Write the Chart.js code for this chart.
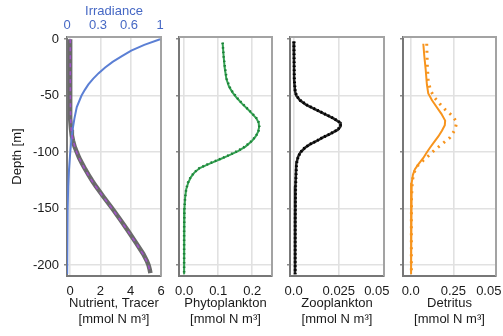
<!DOCTYPE html>
<html>
<head>
<meta charset="utf-8">
<title>NPZD depth profiles</title>
<script src="https://cdn.jsdelivr.net/npm/chart.js@4.4.1/dist/chart.umd.min.js"></script>
<style>
  html, body { margin: 0; padding: 0; background: #fff; overflow: hidden; }
  #wrap { position: relative; width: 503px; height: 336px; overflow: hidden; }
  #wrap canvas { position: absolute; top: 0; }
</style>
</head>
<body>
<div id="wrap">
  <canvas id="c-nut" width="185" height="336" style="left:0"></canvas>
  <canvas id="c-phy" width="133" height="336" style="left:159px"></canvas>
  <canvas id="c-zoo" width="142" height="336" style="left:270px"></canvas>
  <canvas id="c-det" width="141" height="336" style="left:383px"></canvas>
</div>
<script>
// Depth profiles: depth in metres (negative downward), concentrations in mmol N m-3

const depthTicks = [0, -50, -100, -150, -200];

// Light (relative irradiance, top axis of first panel)
const irrDepth = [0, -5, -10, -15, -20, -25, -30, -35, -40, -45, -50, -60, -70, -80, -90, -100, -115, -130, -150, -175, -208];
const irradiance = [1.0, 0.83, 0.69, 0.59, 0.49, 0.41, 0.34, 0.28, 0.23, 0.19, 0.155, 0.105, 0.08, 0.06, 0.046, 0.035, 0.022, 0.013, 0.007, 0.003, 0.001];
const irrTicks = [0, 1 / 3, 2 / 3, 1];
const irrTickLabels = ['0', '0.3', '0.6', '1'];

// Nutrient and passive tracer
const nutDepth = [0, -20, -40, -60, -70, -80, -85, -90, -95, -100, -105, -110, -115, -120, -125, -130, -140, -150, -160, -170, -180, -190, -196, -200, -204, -207];
const nutrient = [0.0, 0.0, 0.0, 0.01, 0.02, 0.07, 0.12, 0.2, 0.3, 0.45, 0.6, 0.8, 1.0, 1.22, 1.45, 1.7, 2.24, 2.8, 3.33, 3.85, 4.35, 4.83, 5.06, 5.18, 5.26, 5.3];
const tracer = [0.02, 0.02, 0.02, 0.03, 0.04, 0.08, 0.13, 0.21, 0.31, 0.44, 0.59, 0.78, 0.98, 1.2, 1.43, 1.68, 2.22, 2.78, 3.31, 3.83, 4.33, 4.81, 5.04, 5.17, 5.25, 5.28];
const nutTicks = [0, 2, 4, 6];
const nutTickLabels = ['0', '2', '4', '6'];

// Phytoplankton
const phyDepth = [-3, -15, -25, -35, -42, -47, -52, -57, -62, -66, -70, -74, -78, -82, -86, -90, -95, -99, -103, -106, -110, -114, -118, -122, -127, -133, -140, -150, -170, -190, -208];
const phyModel = [0.113, 0.116, 0.119, 0.124, 0.132, 0.142, 0.155, 0.17, 0.187, 0.2, 0.212, 0.219, 0.22, 0.217, 0.21, 0.199, 0.18, 0.158, 0.13, 0.107, 0.075, 0.046, 0.03, 0.02, 0.012, 0.006, 0.003, 0.001, 0.0, 0.0, 0.0];
const phyRef = [0.113, 0.116, 0.12, 0.125, 0.133, 0.143, 0.156, 0.171, 0.188, 0.201, 0.213, 0.22, 0.221, 0.218, 0.21, 0.198, 0.179, 0.156, 0.128, 0.105, 0.073, 0.045, 0.029, 0.019, 0.011, 0.006, 0.003, 0.001, 0.0, 0.0, 0.0];
const phyTicks = [0, 0.1, 0.2];
const phyTickLabels = ['0.0', '0.1', '0.2'];

// Zooplankton
const zooDepth = [-2, -20, -36, -46, -50, -54, -58, -62, -66, -70, -74, -77, -80, -84, -87, -90, -93, -96, -100, -104, -110, -130, -160, -208];
const zooModel = [0.0, 0.0002, 0.0003, 0.0008, 0.0015, 0.0035, 0.007, 0.012, 0.017, 0.022, 0.026, 0.026, 0.0245, 0.02, 0.016, 0.0128, 0.009, 0.0063, 0.0038, 0.0025, 0.0015, 0.001, 0.0008, 0.0008];
const zooRef = [0.0002, 0.0003, 0.0004, 0.0009, 0.0016, 0.0036, 0.0071, 0.0121, 0.0171, 0.0221, 0.0259, 0.0259, 0.0244, 0.0199, 0.0159, 0.0127, 0.0089, 0.0062, 0.0038, 0.0025, 0.0016, 0.0011, 0.0009, 0.0009];
const zooTicks = [0, 0.025, 0.05];
const zooTickLabels = ['0.0', '0.025', '0.05'];

// Detritus
const detDepth = [-4, -15, -27, -40, -48, -54, -60, -66, -72, -76, -81, -86, -91, -96, -100, -105, -110, -115, -120, -127, -140, -160, -208];
const detModel = [0.074, 0.08, 0.088, 0.095, 0.103, 0.125, 0.152, 0.18, 0.202, 0.2, 0.183, 0.162, 0.137, 0.113, 0.095, 0.074, 0.048, 0.025, 0.013, 0.006, 0.003, 0.002, 0.002];
const detRefDepth = [-4, -15, -25, -36, -45, -52, -57, -62, -67, -73, -80, -87, -93, -98, -102, -107, -112, -118, -125, -140, -160, -208];
const detRef = [0.094, 0.096, 0.098, 0.103, 0.115, 0.142, 0.17, 0.201, 0.238, 0.27, 0.26, 0.23, 0.182, 0.14, 0.113, 0.075, 0.04, 0.02, 0.01, 0.005, 0.004, 0.004];
const detTicks = [0, 0.25, 0.5];
const detTickLabels = ['0.0', '0.25', '0.05'];

const unitLabel = '[mmol N m\u00b3]';

// Shared styling
const FONT = '"Liberation Sans", Arial, Helvetica, sans-serif';
const TEXT = '#1a1a1a';
const GRID = '#e1e1e1';
const AXIS = '#777';
const FRAME = '#a3a3a3';
const IRR_BLUE = '#4668c4';

const tickFont = { family: FONT, size: 13 };
const titleFont = { family: FONT, size: 13, lineHeight: 1.27 };

// Utility: zip a depth column and a value column into chart points
const profile = (depth, values) => depth.map((d, i) => ({ x: values[i], y: d }));

// Fixed tick positions with their printed labels
function fixedTicks(values) {
  return (scale) => { scale.ticks = values.map((v) => ({ value: v })); };
}
function tickLabels(labels, shiftLast) {
  return (v, i, ticks) => (shiftLast && i === ticks.length - 1 ? labels[i] + '    ' : labels[i]);
}

// Top and right edges of each plot box
const framePlugin = {
  id: 'frame',
  beforeDatasetsDraw(chart) {
    const { ctx, chartArea: a } = chart;
    ctx.save();
    ctx.strokeStyle = FRAME;
    ctx.lineWidth = 2;
    ctx.beginPath();
    ctx.moveTo(a.left, a.top);
    ctx.lineTo(a.right, a.top);
    ctx.lineTo(a.right, a.bottom);
    ctx.stroke();
    ctx.restore();
  }
};

function depthAxis(showLabels) {
  return {
    type: 'linear',
    min: -209.5,
    max: 2,
    afterBuildTicks: fixedTicks(depthTicks),
    afterFit: (s) => { s.width = showLabels ? 67 : 20; },
    ticks: { display: showLabels, padding: 5, font: tickFont, color: TEXT, callback: (v) => String(v) },
    grid: {
      color: (c) => (c.tick && c.tick.value === 0 ? 'rgba(0,0,0,0)' : GRID),
      lineWidth: 1.6,
      tickLength: 3,
      tickColor: '#8a8a8a'
    },
    border: { color: AXIS, width: 2 },
    title: {
      display: showLabels,
      text: 'Depth [m]',
      color: TEXT,
      font: titleFont,
      padding: { top: 9, bottom: 0 }
    }
  };
}

function valueAxis(min, max, ticks, labels, title, shiftLast) {
  return {
    type: 'linear',
    position: 'bottom',
    min,
    max,
    afterBuildTicks: fixedTicks(ticks),
    afterFit: (s) => { s.height = 60; },
    ticks: { padding: 8, font: tickFont, color: TEXT, maxRotation: 0, callback: tickLabels(labels, shiftLast) },
    grid: { color: GRID, lineWidth: 1.6, drawTicks: false },
    border: { color: AXIS, width: 2 },
    title: {
      display: true,
      text: [title, unitLabel],
      color: TEXT,
      font: titleFont,
      padding: { top: 0, bottom: 8 }
    }
  };
}

function solid(points, color, width, axisId) {
  return { data: points, borderColor: color, borderWidth: width, xAxisID: axisId || 'x', order: 2 };
}
function dotted(points, color, width, dash) {
  return { data: points, borderColor: color, borderWidth: width, borderDash: dash, order: 1 };
}

function profileChart(id, datasets, scales, padding) {
  return new Chart(document.getElementById(id), {
    type: 'line',
    data: { datasets },
    options: {
      responsive: false,
      animation: false,
      events: [],
      layout: { padding },
      elements: { point: { radius: 0 }, line: { tension: 0, fill: false } },
      plugins: { legend: { display: false }, tooltip: { enabled: false } },
      scales
    },
    plugins: [framePlugin]
  });
}

// Panel 1: nutrient, tracer and irradiance
profileChart('c-nut', [
  solid(profile(irrDepth, irradiance), '#5b7fd4', 2, 'irr'),
  solid(profile(nutDepth, nutrient), '#6a6a6a', 4.5),
  dotted(profile(nutDepth, tracer), '#a052c8', 1.6, [4, 4])
], {
  x: valueAxis(-0.2, 6, nutTicks, nutTickLabels, 'Nutrient, Tracer', false),
  irr: {
    type: 'linear',
    axis: 'x',
    position: 'top',
    min: 0,
    max: 1.01,
    afterBuildTicks: fixedTicks(irrTicks),
    afterFit: (s) => { s.height = 37; },
    ticks: { padding: -4, font: tickFont, color: IRR_BLUE, maxRotation: 0, callback: tickLabels(irrTickLabels, false) },
    grid: { display: false },
    border: { display: false },
    title: { display: true, text: 'Irradiance', color: IRR_BLUE, font: titleFont, padding: { top: 3, bottom: 0 } }
  },
  y: depthAxis(true)
}, { top: 0, right: 24, bottom: 0, left: 0 });

// Panel 2: phytoplankton
profileChart('c-phy', [
  solid(profile(phyDepth, phyModel), '#34a352', 2),
  dotted(profile(phyDepth, phyRef), '#1c7f38', 2.5, [1.5, 3])
], {
  x: valueAxis(-0.015, 0.258, phyTicks, phyTickLabels, 'Phytoplankton', false),
  y: depthAxis(false)
}, { top: 37, right: 20, bottom: 0, left: 0 });

// Panel 3: zooplankton
profileChart('c-zoo', [
  solid(profile(zooDepth, zooModel), '#222', 2.5),
  dotted(profile(zooDepth, zooRef), '#000', 3, [1.5, 2.5])
], {
  x: valueAxis(-0.002, 0.05, zooTicks, zooTickLabels, 'Zooplankton', true),
  y: depthAxis(false)
}, { top: 37, right: 28, bottom: 0, left: 0 });

// Panel 4: detritus
profileChart('c-det', [
  solid(profile(detDepth, detModel), '#f7941d', 2),
  dotted(profile(detRefDepth, detRef), '#f7941d', 3, [2, 5])
], {
  x: valueAxis(-0.045, 0.5, detTicks, detTickLabels, 'Detritus', true),
  y: depthAxis(false)
}, { top: 37, right: 28, bottom: 0, left: 0 });
</script>
</body>
</html>
